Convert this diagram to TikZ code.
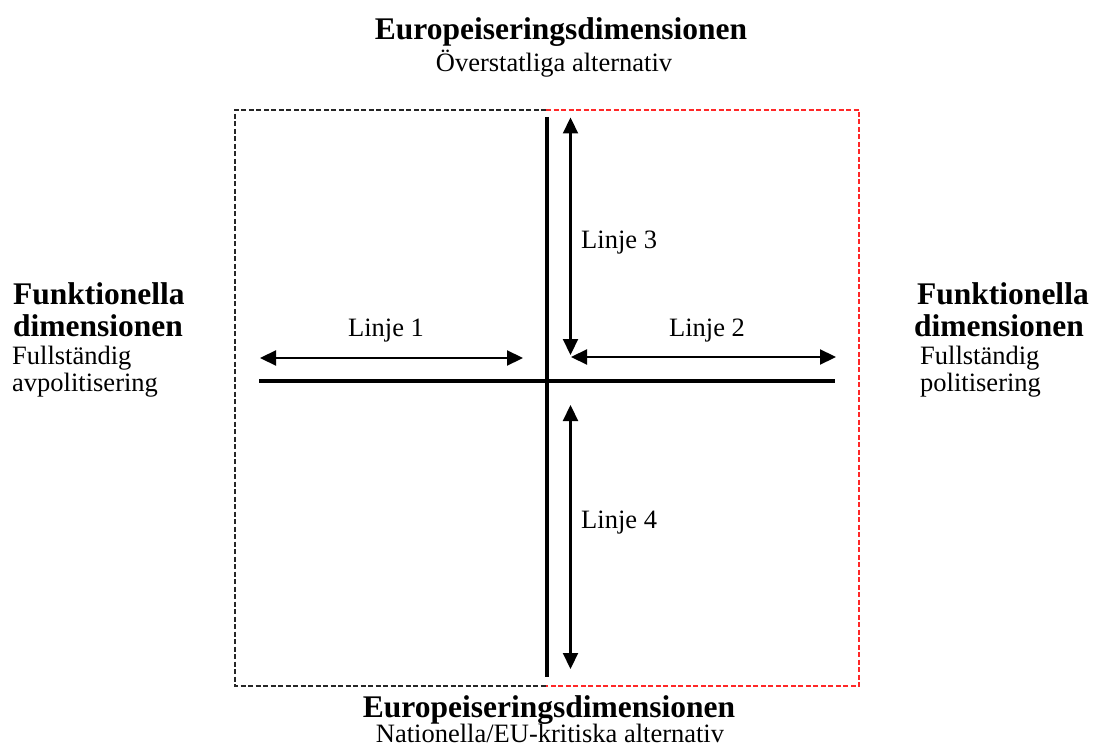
\documentclass[tikz,border=0pt]{standalone}
\usepackage{fontspec}
\setmainfont{Liberation Serif}
\usetikzlibrary{arrows.meta}
\definecolor{boxred}{RGB}{255,40,40}
\begin{document}
\begin{tikzpicture}[x=1pt,y=-1pt,
  axis/.style={line width=4.5pt},
  dimarrow/.style={line width=2.2pt,{Triangle[length=16pt,width=15pt]}-{Triangle[length=16pt,width=15pt]}},
  blackdash/.style={draw=black!85,line width=1.3pt,dash pattern=on 5pt off 2.5pt},
  reddash/.style={draw=boxred,line width=1.3pt,dash pattern=on 5pt off 2.5pt},
  title/.style={font=\bfseries\fontsize{31.5}{36}\selectfont, inner sep=0pt},
  sub/.style={font=\fontsize{26.5}{30}\selectfont, inner sep=0pt},
  lbl/.style={font=\fontsize{26.5}{30}\selectfont, inner sep=0pt}]
\useasboundingbox (0,0) rectangle (1093,754);
% box
\coordinate (btl) at (235,110);
\coordinate (bt) at (546,110);
\coordinate (btr) at (859,110);
\coordinate (bbl) at (235,686);
\coordinate (bb) at (546,686);
\coordinate (bbr) at (859,686);
\draw[blackdash] (bt) -- (btl) -- (bbl) -- (bb);
\draw[reddash] (bt) -- (btr) -- (bbr) -- (bb);
% axes
\coordinate (vt) at (547,117);
\coordinate (vb) at (547,677);
\coordinate (hl) at (259,381);
\coordinate (hr) at (835,381);
\draw[axis] (vt) -- (vb);
\draw[axis] (hl) -- (hr);
% arrows
\coordinate (a1l) at (260,358);
\coordinate (a1r) at (523,358);
\coordinate (a2l) at (571,357);
\coordinate (a2r) at (836,357);
\coordinate (a3t) at (570.5,117.5);
\coordinate (a3b) at (570.5,355);
\coordinate (a4t) at (570.5,405);
\coordinate (a4b) at (570.5,669);
\draw[dimarrow] (a1l) -- (a1r);
\draw[dimarrow] (a2l) -- (a2r);
\draw[dimarrow] (a3t) -- (a3b);
\draw[dimarrow] (a4t) -- (a4b);
% labels
\node[lbl,anchor=base] (l1) at (386,337) {Linje 1};
\node[lbl,anchor=base] (l2) at (707,337) {Linje 2};
\node[lbl,anchor=base west] (l3) at (581,249) {Linje 3};
\node[lbl,anchor=base west] (l4) at (581,528) {Linje 4};
% titles
\node[title,anchor=base] (tt) at (561,40) {Europeiseringsdimensionen};
\node[sub,anchor=base] (ts) at (554,72) {Överstatliga alternativ};
\node[title,anchor=base] (bt1) at (549,717) {Europeiseringsdimensionen};
\node[sub,anchor=base] (bs) at (550,742) {Nationella/EU-kritiska alternativ};
\node[title,anchor=base west] (lt1) at (13,305) {Funktionella};
\node[title,anchor=base west] (lt2) at (13,336) {dimensionen};
\node[sub,anchor=base west] (ls1) at (12,364) {Fullständig};
\node[sub,anchor=base west] (ls2) at (12,391) {avpolitisering};
\node[title,anchor=base west] (rt1) at (917,305) {Funktionella};
\node[title,anchor=base west] (rt2) at (914,336) {dimensionen};
\node[sub,anchor=base west] (rs1) at (920,364) {Fullständig};
\node[sub,anchor=base west] (rs2) at (920,391) {politisering};
\end{tikzpicture}
\end{document}
